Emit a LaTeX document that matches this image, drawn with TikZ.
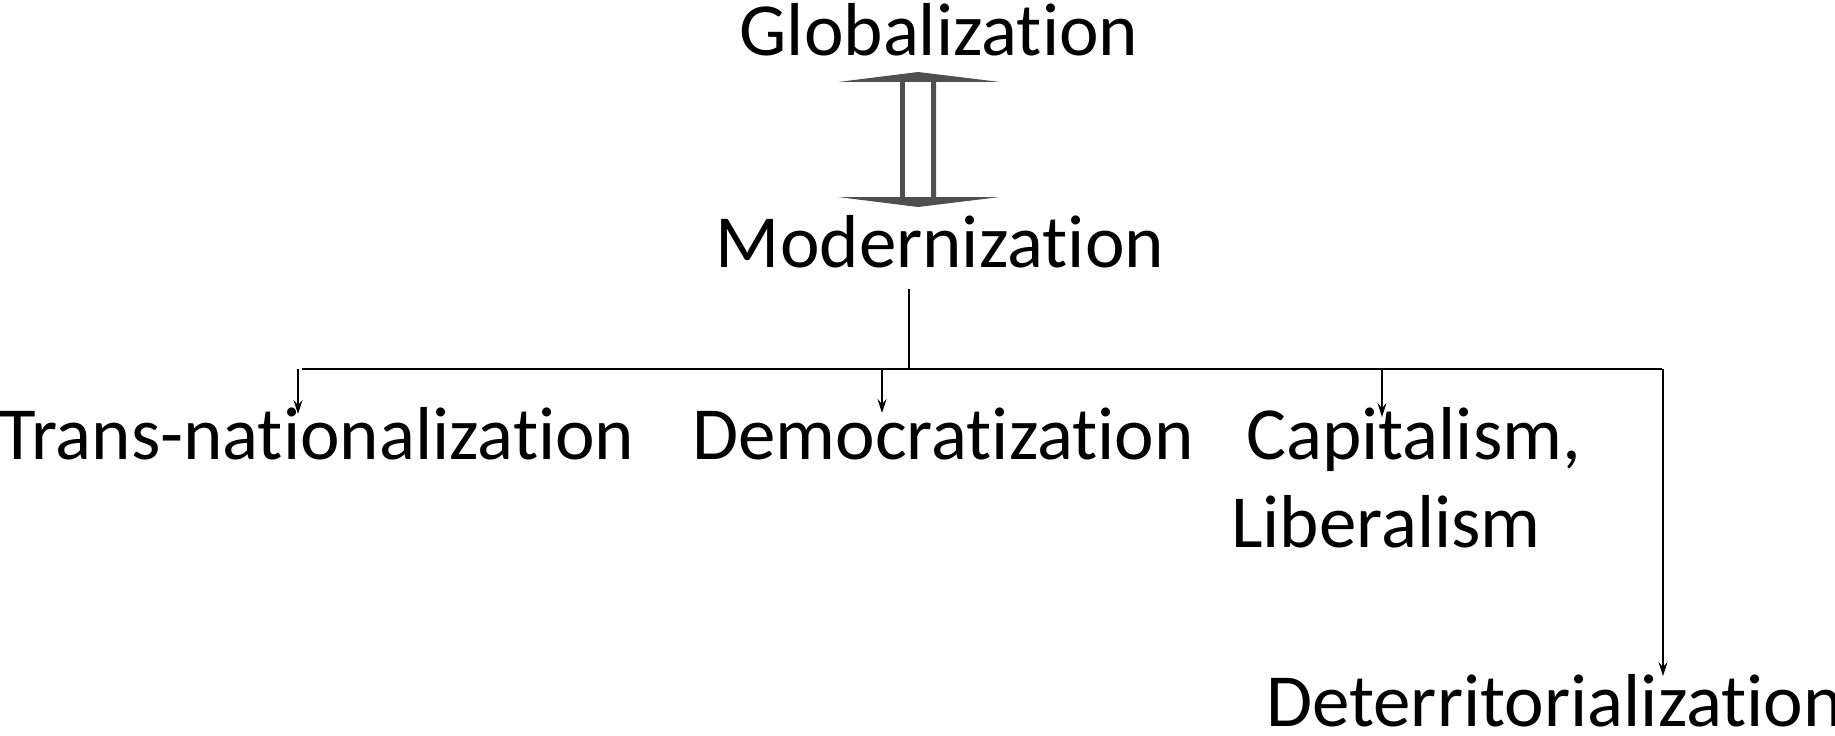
\documentclass[tikz,border=0pt]{standalone}
\usepackage{fontspec}
\setmainfont{Carlito}[Ligatures=NoCommon]
\usetikzlibrary{arrows.meta,calc}
\definecolor{arrowgray}{RGB}{79,79,79}

\begin{document}
\begin{tikzpicture}[x=1bp, y=-1bp,
    txt/.style={inner sep=0pt, font=\fontsize{75bp}{90bp}\selectfont},
    conn/.style={line width=1.6bp, black},
    down/.style={conn, -{Stealth[length=14bp, width=9bp, inset=5bp]}},
    twoway/.style={fill=arrowgray}]
    \useasboundingbox (0,0) rectangle (1835,736);

    \node[txt, anchor=base] (glob) at (939,56) {Globalization};
    \node[txt, anchor=base] (mod) at (940,267) {Modernization};
    \node[txt, anchor=base west] (trans) at (-1,459) {Trans-nationalization};
    \node[txt, anchor=base west] (demo) at (692,459) {Democratization};
    \node[txt, anchor=base west] (cap) at (1246,459) {Capitalism,};
    \node[txt, anchor=base west] (lib) at (1231,547) {Liberalism};
    \node[txt, anchor=base west] (deterr) at (1266,726) {Deterritorialization};

    % up-down block arrow between glob and mod
    \fill[twoway] (918,72) -- (1000,82) -- (936,82) -- (936,197)
        -- (1000,197) -- (918,207) -- (838,197) -- (900,197)
        -- (900,82) -- (838,82) -- cycle;
    \fill[white] (905,82) rectangle (931,197);

    \coordinate (drop) at (909,289);
    \coordinate (busL) at (302,369);
    \coordinate (busR) at (1662,369);
    \draw[conn] (drop) -- (drop |- busL);
    \draw[conn] (busL) -- (busR);

    \foreach \x/\dest/\h [count=\i] in {298/trans/45, 882/demo/46, 1382/cap/42, 1663/deterr/50}
    {
        \coordinate (top\i) at (\x,369);
        \draw[down] (top\i) -- ($(top\i |- \dest.base)+(0,-\h)$);
    }
\end{tikzpicture}
\end{document}
